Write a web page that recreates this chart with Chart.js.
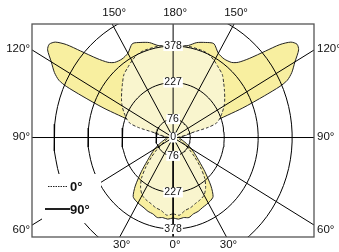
<!DOCTYPE html>
<html>
<head>
<meta charset="utf-8">
<script src="https://cdn.jsdelivr.net/npm/chart.js@4.4.0/dist/chart.umd.min.js"></script>
<style>
  html, body { margin: 0; padding: 0; background: #fff; }
</style>
</head>
<body>
<canvas id="polar" width="339" height="252"></canvas>
<script>
// Luminous intensity (cd). gamma 0 = straight down, 180 = straight up
const gammaC0 = [0, 5, 10, 15, 20, 25, 30, 35, 40, 45, 50, 55, 60, 70, 80, 90, 95, 100, 103, 105, 107, 110, 115, 120, 125, 130, 135, 140, 145, 150, 155, 160, 170, 180];
const intensityC0 = [315, 322, 306, 300, 290, 284, 275, 252, 218, 170, 125, 90, 62, 38, 25, 20, 30, 55, 75, 160, 200, 218, 240, 262, 280, 298, 318, 340, 352, 366, 378, 382, 383, 382];

const gammaC90 = [0, 4, 8, 12, 16, 20, 24, 28, 32, 36, 40, 45, 50, 55, 60, 65, 70, 75, 80, 85, 90, 95, 100, 104, 108, 110, 111.5, 113, 114, 115, 117, 120, 123, 125, 127, 129, 131, 134, 137, 140, 145, 150, 155, 160, 165, 170, 175, 180];
const intensityC90 = [332, 338, 334, 338, 328, 325, 318, 314, 310, 302, 262, 200, 150, 118, 95, 72, 55, 42, 35, 30, 30, 38, 60, 90, 130, 190, 330, 440, 520, 560, 592, 625, 665, 672, 655, 610, 545, 470, 425, 405, 396, 402, 428, 418, 406, 386, 380, 378];

// grid
const ringValues = [76, 227, 378, 529];
const ringLabels = ['76', '227', '378'];
const gridAngles = [0, 30, 60, 90, 120, 150, 180];
const angleLabels = ['0°', '30°', '60°', '90°', '120°', '150°', '180°'];
const legendLabels = ['0°', '90°'];

// visible window of the diagram, cd
const xMin = -627, xMax = 626, yMin = -411, yMax = 469;

function toXY(gamma, value, side) {
  const a = gamma * Math.PI / 180;
  return { x: side * value * Math.sin(a), y: -value * Math.cos(a) };
}

// right half going up, then left half coming back down
function curvePoints(gammas, values) {
  const pts = [];
  gammas.forEach((g, i) => pts.push(toXY(g, values[i], 1)));
  for (let i = gammas.length - 1; i >= 0; i--) pts.push(toXY(gammas[i], values[i], -1));
  return pts;
}

function ringPoints(value) {
  const pts = [];
  for (let t = 0; t <= 360; t += 4) pts.push(toXY(t, value, 1));
  return pts;
}

const datasets = [];

datasets.push({
  label: 'C90',
  data: curvePoints(gammaC90, intensityC90),
  showLine: true,
  fill: 'shape',
  backgroundColor: 'rgb(248, 239, 160)',
  borderColor: '#222',
  borderWidth: 1,
  tension: 0.25,
  pointRadius: 0,
  order: 10
});

datasets.push({
  label: 'C0',
  data: curvePoints(gammaC0, intensityC0),
  showLine: true,
  fill: 'shape',
  backgroundColor: 'rgb(249, 245, 206)',
  borderColor: '#333',
  borderWidth: 1,
  borderDash: [3, 2],
  tension: 0.25,
  pointRadius: 0,
  order: 9
});

ringValues.forEach(v => {
  datasets.push({
    data: ringPoints(v),
    showLine: true,
    borderColor: '#000',
    borderWidth: 1,
    tension: 0,
    pointRadius: 0,
    order: 1
  });
});

gridAngles.forEach(a => {
  [1, -1].forEach(side => {
    if ((a === 0 || a === 180) && side === -1) return;
    datasets.push({
      data: [{ x: 0, y: 0 }, toXY(a, 3000, side)],
      showLine: true,
      borderColor: '#000',
      borderWidth: 1,
      pointRadius: 0,
      order: 1
    });
  });
});

function labelWithBox(ctx, text, x, y) {
  const w = ctx.measureText(text).width;
  ctx.fillStyle = '#fff';
  ctx.fillRect(x - w / 2 - 1, y - 5, w + 2, 10);
  ctx.fillStyle = '#111';
  ctx.fillText(text, x, y);
}

const overlay = {
  id: 'overlay',
  afterDatasetsDraw(chart) {
    const ctx = chart.ctx;
    const sx = chart.scales.x, sy = chart.scales.y;
    const area = chart.chartArea;
    const cx = sx.getPixelForValue(0), cy = sy.getPixelForValue(0);
    ctx.save();

    // intensity labels along the vertical axis
    ctx.font = '10.5px "Liberation Sans", Arial, sans-serif';
    ctx.textAlign = 'center';
    ctx.textBaseline = 'middle';
    ringLabels.forEach((t, i) => {
      labelWithBox(ctx, t, cx, sy.getPixelForValue(ringValues[i]));
      labelWithBox(ctx, t, cx, sy.getPixelForValue(-ringValues[i]));
    });
    labelWithBox(ctx, '0', cx, cy);

    // legend
    ctx.fillStyle = '#fff';
    ctx.fillRect(42, 174, 59, 49);
    ctx.strokeStyle = '#222';
    ctx.lineWidth = 1;
    ctx.setLineDash([1.5, 1]);
    ctx.beginPath(); ctx.moveTo(48, 186.5); ctx.lineTo(68, 186.5); ctx.stroke();
    ctx.setLineDash([]);
    ctx.lineWidth = 2;
    ctx.beginPath(); ctx.moveTo(45, 209); ctx.lineTo(70, 209); ctx.stroke();
    ctx.fillStyle = '#111';
    ctx.font = 'bold 13px "Liberation Sans", Arial, sans-serif';
    ctx.textAlign = 'left';
    ctx.fillText(legendLabels[0], 70, 187);
    ctx.fillText(legendLabels[1], 70, 210);

    // frame
    ctx.strokeStyle = '#555';
    ctx.lineWidth = 1.3;
    ctx.strokeRect(area.left, area.top, area.right - area.left, area.bottom - area.top);

    // angle labels where the angle lines leave the frame
    ctx.font = '11.5px "Liberation Sans", Arial, sans-serif';
    ctx.fillStyle = '#111';
    gridAngles.forEach((a, i) => {
      [1, -1].forEach(side => {
        if ((a === 0 || a === 180) && side === -1) return;
        const far = toXY(a, 3000, side);
        const px = sx.getPixelForValue(far.x) - cx, py = sy.getPixelForValue(far.y) - cy;
        let k = Infinity;
        if (px > 0) k = Math.min(k, (area.right - cx) / px);
        if (px < 0) k = Math.min(k, (area.left - cx) / px);
        if (py > 0) k = Math.min(k, (area.bottom - cy) / py);
        if (py < 0) k = Math.min(k, (area.top - cy) / py);
        const ex = cx + px * k, ey = cy + py * k;
        if (Math.abs(ey - area.top) < 0.5) {
          ctx.textAlign = 'center'; ctx.fillText(angleLabels[i], ex + 2, area.top - 11);
        } else if (Math.abs(ey - area.bottom) < 0.5) {
          ctx.textAlign = 'center'; ctx.fillText(angleLabels[i], ex + 2, area.bottom + 8);
        } else if (side < 0) {
          ctx.textAlign = 'right'; ctx.fillText(angleLabels[i], area.left - 2, a === 60 ? ey + 5 : ey - 1);
        } else {
          ctx.textAlign = 'left'; ctx.fillText(angleLabels[i], area.right + 3, a === 60 ? ey + 5 : ey - 1);
        }
      });
    });
    ctx.restore();
  }
};

new Chart(document.getElementById('polar'), {
  type: 'scatter',
  data: { datasets: datasets },
  options: {
    responsive: false,
    animation: false,
    devicePixelRatio: 1,
    layout: { padding: { left: 32, top: 24, right: 25, bottom: 15 } },
    scales: {
      x: { type: 'linear', min: xMin, max: xMax, display: false },
      y: { type: 'linear', min: yMin, max: yMax, display: false }
    },
    plugins: {
      legend: { display: false },
      tooltip: { enabled: false }
    }
  },
  plugins: [overlay]
});
</script>
</body>
</html>
